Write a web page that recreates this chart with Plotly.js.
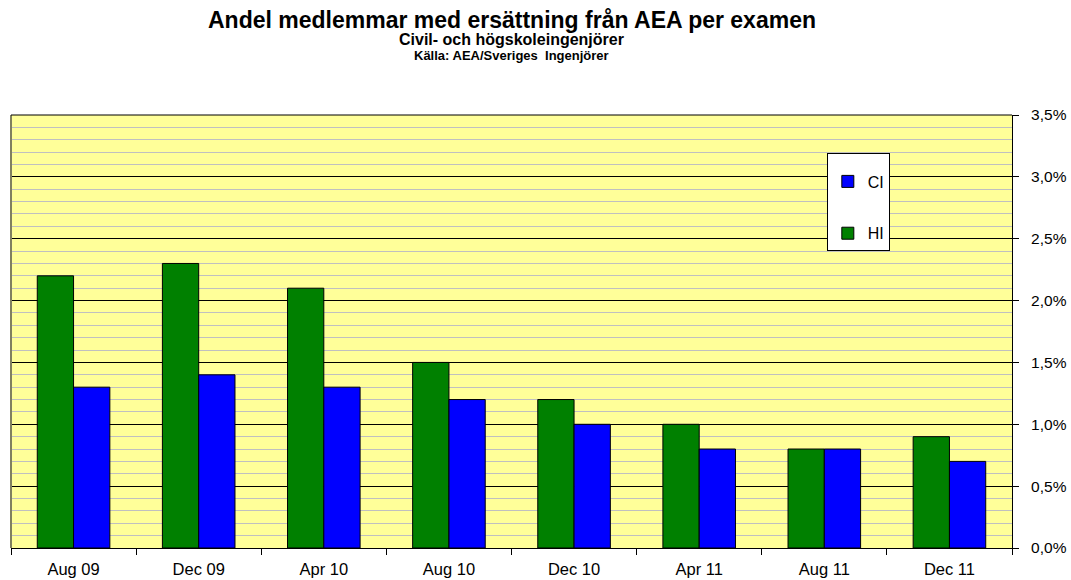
<!DOCTYPE html>
<html><head><meta charset="utf-8">
<script src="https://cdn.plot.ly/plotly-3.0.1.min.js"></script>
<style>body{margin:0;padding:0;background:#fff}#chart{width:1071px;height:580px}</style>
</head><body><div id="chart"></div>
<script>
const categories = ["Aug 09","Dec 09","Apr 10","Aug 10","Dec 10","Apr 11","Aug 11","Dec 11"];
const hiValues = [0.022,0.023,0.021,0.015,0.012,0.010,0.008,0.009];
const ciValues = [0.013,0.014,0.013,0.012,0.010,0.008,0.008,0.007];
const yTickVals = [0,0.005,0.01,0.015,0.02,0.025,0.03,0.035];

const font = "Liberation Sans, Arial, sans-serif";
const traces = [
  {type:"bar", name:"HI", x:categories, y:hiValues, legendrank:2, legendgroup:"hi",
   marker:{color:"#008000", line:{color:"#000", width:1}}},
  {type:"bar", name:"CI", x:categories, y:ciValues, legendrank:1, legendgroup:"ci",
   marker:{color:"#0000FF", line:{color:"#000", width:1}}}
];
const layout = {
  width:1071, height:580,
  margin:{l:11, r:59, t:115, b:32},
  paper_bgcolor:"#fff", plot_bgcolor:"#FFFF99",
  separators:", ",
  barmode:"group", bargap:0.42, bargroupgap:0,
  font:{family:font, size:16, color:"#000"},
  showlegend:true,
  legend:{x:0.815, y:0.912, xanchor:"left", yanchor:"top", bgcolor:"#fff",
          bordercolor:"#000", borderwidth:1, font:{size:16, family:font},
          title:{text:"\u00a0", font:{size:8}},
          tracegroupgap:28, itemwidth:30},
  xaxis:{type:"category", showline:true, linecolor:"#000", linewidth:1,
         ticks:"outside", ticklen:6, tickcolor:"#000", tickson:"boundaries",
         showgrid:false, tickfont:{size:16.5}, ticklabelstandoff:6},
  yaxis:{side:"right", range:[0,0.035], tickvals:yTickVals, tickformat:".1%",
         ticks:"outside", ticklen:6, tickcolor:"#000", showline:true, linecolor:"#000",
         showgrid:true, gridcolor:"#000", gridwidth:1, zeroline:false,
         tickfont:{size:15.5}, ticklabelstandoff:9,
         minor:{dtick:0.001, showgrid:true, gridcolor:"#C0C0C0", gridwidth:1, ticks:""}},
  shapes:[
    {type:"line", xref:"paper", yref:"paper", x0:0, x1:0, y0:0, y1:1, line:{color:"#808060", width:2}},
    {type:"line", xref:"paper", yref:"paper", x0:0, x1:1, y0:1, y1:1, line:{color:"#000", width:1}}
  ],
  annotations:[
    {xref:"paper", yref:"paper", x:0.5, y:1, xanchor:"center", yanchor:"middle",
     xshift:0, yshift:95, showarrow:false, text:"<b>Andel medlemmar med ersättning från AEA per examen</b>",
     font:{size:23, family:font}},
    {xref:"paper", yref:"paper", x:0.5, y:1, xanchor:"center", yanchor:"middle",
     yshift:76, showarrow:false, text:"<b>Civil- och högskoleingenjörer</b>", font:{size:16, family:font}},
    {xref:"paper", yref:"paper", x:0.5, y:1, xanchor:"center", yanchor:"middle",
     yshift:60, showarrow:false, text:"<b>Källa: AEA/Sveriges  Ingenjörer</b>", font:{size:13, family:font}}
  ]
};
Plotly.newPlot("chart", traces, layout, {displayModeBar:false});
</script></body></html>
